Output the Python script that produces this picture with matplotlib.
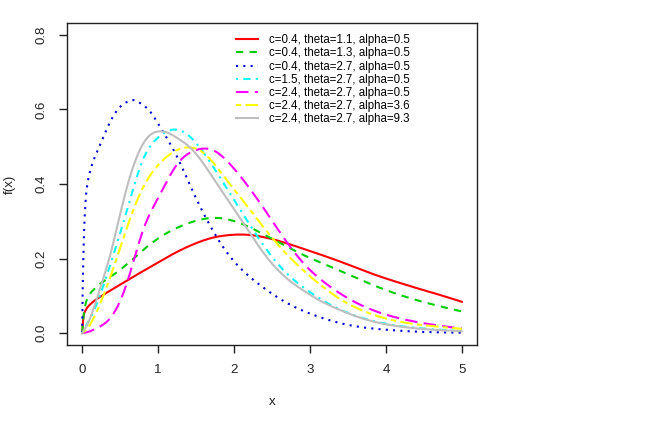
import matplotlib
matplotlib.use("Agg")
import matplotlib.pyplot as plt
import numpy as np

plt.rcParams['font.family'] = ['Liberation Sans', 'DejaVu Sans']

# Values
x_red = [0, 0.017, 0.05, 0.105, 0.17, 0.236, 0.41, 0.63, 0.85, 1.07, 1.29, 1.51, 1.72, 1.94, 2.16, 2.4, 2.66, 2.93, 3.19, 3.5, 3.78, 4.13, 4.5, 4.7, 5.0]
y_red = [0, 0.045, 0.063, 0.077, 0.088, 0.097, 0.119, 0.146, 0.172, 0.198, 0.222, 0.242, 0.256, 0.263, 0.264, 0.257, 0.243, 0.225, 0.207, 0.184, 0.162, 0.138, 0.115, 0.103, 0.084]

x_green = [0, 0.02, 0.07, 0.17, 0.41, 0.63, 0.85, 1.07, 1.29, 1.51, 1.72, 1.94, 2.14, 2.4, 2.66, 2.93, 3.19, 3.43, 3.78, 4.13, 4.5, 5.0]
y_green = [0, 0.05, 0.094, 0.12, 0.156, 0.192, 0.231, 0.263, 0.286, 0.302, 0.309, 0.304, 0.290, 0.264, 0.236, 0.208, 0.185, 0.164, 0.133, 0.106, 0.083, 0.058]

x_blue = [0, 0.005, 0.015, 0.03, 0.06, 0.127, 0.214, 0.345, 0.476, 0.61, 0.68, 0.74, 0.915, 1.0, 1.24, 1.46, 1.68, 1.9, 2.14, 2.4, 2.66, 2.93, 3.2, 3.5, 4.0, 4.5, 5.0]
y_blue = [0, 0.1, 0.2, 0.3, 0.388, 0.45, 0.495, 0.557, 0.602, 0.622, 0.625, 0.62, 0.589, 0.562, 0.477, 0.379, 0.29, 0.218, 0.163, 0.12, 0.085, 0.058, 0.038, 0.022, 0.009, 0.003, 0.001]

x_cyan = [0, 0.06, 0.15, 0.37, 0.59, 0.8, 1.02, 1.2, 1.37, 1.5, 1.68, 1.9, 2.14, 2.4, 2.66, 2.93, 3.19, 3.43, 4.0, 4.5, 5.0]
y_cyan = [0, 0.022, 0.058, 0.183, 0.33, 0.465, 0.528, 0.546, 0.535, 0.51, 0.46, 0.39, 0.312, 0.232, 0.167, 0.12, 0.085, 0.06, 0.025, 0.012, 0.006]

x_magenta = [0, 0.06, 0.15, 0.37, 0.59, 0.8, 1.02, 1.24, 1.46, 1.6, 1.75, 1.876, 2.14, 2.4, 2.66, 2.93, 3.19, 3.43, 3.75, 4.17, 4.7, 5.0]
y_magenta = [0, 0.002, 0.009, 0.04, 0.135, 0.275, 0.37, 0.45, 0.488, 0.495, 0.488, 0.468, 0.406, 0.332, 0.254, 0.184, 0.136, 0.102, 0.068, 0.04, 0.02, 0.012]

x_yellow = [0, 0.06, 0.15, 0.37, 0.61, 0.8, 1.02, 1.24, 1.4, 1.55, 1.68, 1.876, 2.14, 2.4, 2.66, 2.93, 3.19, 3.43, 3.65, 4.17, 4.7, 5.0]
y_yellow = [0, 0.01, 0.04, 0.15, 0.295, 0.39, 0.455, 0.49, 0.498, 0.49, 0.468, 0.418, 0.350, 0.281, 0.219, 0.165, 0.121, 0.087, 0.064, 0.031, 0.017, 0.011]

x_grey = [0, 0.06, 0.15, 0.236, 0.37, 0.476, 0.65, 0.85, 1.0, 1.12, 1.24, 1.46, 1.68, 1.876, 2.14, 2.4, 2.66, 2.93, 3.19, 3.43, 3.65, 4.17, 4.7, 5.0]
y_grey = [0, 0.02, 0.065, 0.12, 0.21, 0.299, 0.433, 0.522, 0.541, 0.538, 0.525, 0.49, 0.43, 0.37, 0.29, 0.212, 0.153, 0.112, 0.081, 0.059, 0.042, 0.018, 0.008, 0.005]

labels = ["c=0.4, theta=1.1, alpha=0.5",
          "c=0.4, theta=1.3, alpha=0.5",
          "c=0.4, theta=2.7, alpha=0.5",
          "c=1.5, theta=2.7, alpha=0.5",
          "c=2.4, theta=2.7, alpha=0.5",
          "c=2.4, theta=2.7, alpha=3.6",
          "c=2.4, theta=2.7, alpha=9.3"]

series = [(x_red, y_red), (x_green, y_green), (x_blue, y_blue), (x_cyan, y_cyan),
          (x_magenta, y_magenta), (x_yellow, y_yellow), (x_grey, y_grey)]
colors = ["#FF0000", "#00CD00", "#0000CD", "#00FFFF", "#FF00FF", "#FFFF00", "#BEBEBE"]
dashes = [None, (3.5, 3), (1, 2.5), (1, 2.5, 3.5, 2.5), (6, 3), (2.5, 2, 6, 2), None]


def pchip(xs, ys, xd):
    xs = np.asarray(xs, float); ys = np.asarray(ys, float)
    h = np.diff(xs); d = np.diff(ys) / h
    n = len(xs)
    m = np.zeros(n)
    for k in range(1, n - 1):
        if d[k-1] * d[k] > 0:
            w1 = 2*h[k] + h[k-1]; w2 = h[k] + 2*h[k-1]
            m[k] = (w1 + w2) / (w1/d[k-1] + w2/d[k])
    m[0] = d[0]; m[-1] = d[-1]
    idx = np.clip(np.searchsorted(xs, xd) - 1, 0, n - 2)
    hh = xs[idx+1] - xs[idx]
    t = (xd - xs[idx]) / hh
    h00 = 2*t**3 - 3*t**2 + 1; h10 = t**3 - 2*t**2 + t
    h01 = -2*t**3 + 3*t**2; h11 = t**3 - t**2
    return h00*ys[idx] + h10*hh*m[idx] + h01*ys[idx+1] + h11*hh*m[idx+1]


def spline(xs, ys, xd):
    xs = np.asarray(xs, float); ys = np.asarray(ys, float)
    n = len(xs); h = np.diff(xs)
    A = np.zeros((n, n)); b = np.zeros(n)
    A[0, 0] = 1; A[-1, -1] = 1
    for i in range(1, n - 1):
        A[i, i-1] = h[i-1]; A[i, i] = 2*(h[i-1] + h[i]); A[i, i+1] = h[i]
        b[i] = 3*((ys[i+1]-ys[i])/h[i] - (ys[i]-ys[i-1])/h[i-1])
    c = np.linalg.solve(A, b)
    bb = (ys[1:]-ys[:-1])/h - h*(2*c[:-1] + c[1:])/3
    dd = (c[1:] - c[:-1])/(3*h)
    idx = np.clip(np.searchsorted(xs, xd) - 1, 0, n - 2)
    t = xd - xs[idx]
    return ys[idx] + bb[idx]*t + c[idx]*t**2 + dd[idx]*t**3


fig = plt.figure(figsize=(6.6, 4.22), dpi=100)
ax = fig.add_axes([67/660, 1-345/422, (477-67)/660, (345-23)/422])

for (xs, ys), c, d, lab in zip(series, colors, dashes, labels):
    xd = np.concatenate([np.linspace(0, 0.25, 80), np.linspace(0.25, 5, 500)[1:]])
    # monotone interpolation near the origin (steep rise), smooth spline elsewhere
    ya = pchip(xs, ys, xd)
    yb = spline(xs, ys, xd)
    w = np.clip((xd - 0.15) / 0.25, 0, 1)
    yd = np.maximum((1 - w) * ya + w * yb, 0)
    line, = ax.plot(xd, yd, color=c, lw=1.5, label=lab)
    if d is not None:
        line.set_dashes(d)

ax.set_xlim(-0.2, 5.2)
ax.set_ylim(-0.032, 0.832)
ax.set_xticks([0, 1, 2, 3, 4, 5])
ax.set_yticks([0.0, 0.2, 0.4, 0.6, 0.8])
ax.set_yticklabels(["0.0", "0.2", "0.4", "0.6", "0.8"], rotation=90, va='center')
ax.tick_params(direction='out', length=6, width=1, labelsize=9.5, pad=8, colors='#222222')
for s in ax.spines.values():
    s.set_linewidth(1)
    s.set_color('#222222')
ax.set_xlabel("x", fontsize=9.5, labelpad=14, color='#222222')
ax.set_ylabel("f(x)", fontsize=9.5, labelpad=14, color='#222222')

leg = ax.legend(loc='upper left', bbox_to_anchor=(0.392, 0.99), frameon=False,
                fontsize=8.3, handlelength=1.9, labelspacing=0.1, handletextpad=0.95,
                borderaxespad=0.3)

fig.savefig("out.png", dpi=100)
